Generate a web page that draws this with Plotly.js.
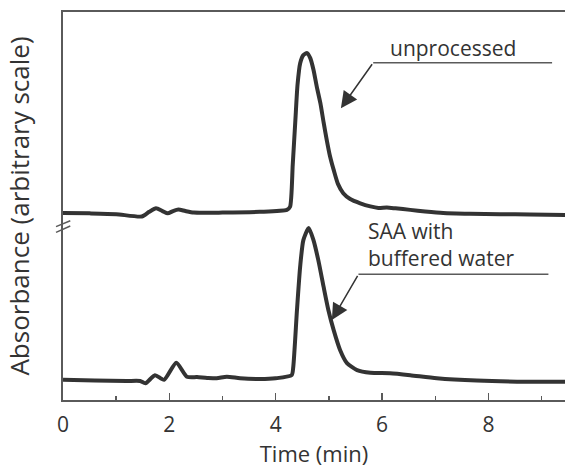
<!DOCTYPE html>
<html>
<head>
<meta charset="utf-8">
<script src="https://cdn.plot.ly/plotly-3.0.1.min.js"></script>
<style>
html,body{margin:0;padding:0;background:#fff;}
#chart{width:565px;height:470px;}
</style>
</head>
<body>
<div id="chart"></div>
<script>
// Time (min) and absorbance (arbitrary units, upper trace offset)
const timeUnprocessed = [0.00,0.50,1.00,1.48,1.62,1.75,1.87,1.97,2.07,2.17,2.30,2.46,3.00,3.70,4.21,4.27,4.32,4.37,4.41,4.46,4.52,4.59,4.65,4.71,4.77,4.84,4.90,4.96,5.02,5.09,5.17,5.27,5.40,5.59,5.78,5.93,6.09,6.25,6.53,6.81,7.15,7.65,8.22,8.78,9.44];
const absUnprocessed  = [48.2,48.1,47.9,47.3,48.5,49.4,48.7,48.1,48.7,49.1,48.7,48.3,48.3,48.5,49.0,49.8,60.6,72.2,81.2,86.8,88.9,89.4,88.1,85.1,80.9,76.5,71.6,67.0,62.9,59.3,55.7,53.3,51.8,50.7,49.9,49.5,49.6,49.4,49.0,48.6,48.2,48.0,47.9,47.8,47.7];

const timeSAA = [0.00,0.60,1.20,1.45,1.55,1.73,1.90,2.13,2.33,2.52,2.71,2.89,3.08,3.33,3.71,4.00,4.30,4.33,4.40,4.46,4.52,4.62,4.71,4.80,4.90,4.99,5.09,5.21,5.34,5.53,5.78,6.15,6.53,7.03,7.78,8.72,9.44];
const absSAA  = [5.2,5.0,4.9,4.9,4.3,6.4,5.2,9.6,6.0,5.9,5.7,5.6,6.0,5.6,5.4,5.6,6.4,8.5,23.2,34.4,41.2,44.3,41.2,36.1,29.2,23.2,18.0,12.9,9.5,7.7,7.0,6.9,6.4,5.6,5.0,4.7,4.7];

const xTickVals = [0,2,4,6,8];
const xTickText = ['0','2','4','6','8'];
const xMinorVals = [1,3,5,7,9];

const labelUnprocessed = 'unprocessed';
const labelSAA = 'SAA with<br>buffered water';

const lineColor = '#333333';
const axisColor = '#5a5a5a';
const font = 'Open Sans, sans-serif';

const traces = [
  {x: timeUnprocessed, y: absUnprocessed, type:'scatter', mode:'lines',
   line:{color:lineColor, width:4, shape:'spline', smoothing:0.6}, hoverinfo:'skip'},
  {x: timeSAA, y: absSAA, type:'scatter', mode:'lines',
   line:{color:lineColor, width:4, shape:'spline', smoothing:0.6}, hoverinfo:'skip'}
];

const layout = {
  width:565, height:470,
  margin:{l:63, r:0, t:12, b:70},
  paper_bgcolor:'#fff', plot_bgcolor:'#fff',
  showlegend:false,
  font:{family:font, color:'#333', size:21},
  xaxis:{
    range:[0,9.44], showgrid:false, zeroline:false,
    showline:true, linecolor:axisColor, linewidth:2, mirror:true,
    ticks:'inside', ticklen:7, tickwidth:1.5, tickcolor:axisColor,
    tickvals:xTickVals, ticktext:xTickText, ticklabelstandoff:5,
    tickfont:{family:font, size:21, color:'#333'},
    minor:{tickvals:xMinorVals, ticks:'inside', ticklen:4, tickwidth:1.5, tickcolor:axisColor},
    title:{text:'Time (min)', font:{family:font, size:22, color:'#333'}, standoff:8}
  },
  yaxis:{
    range:[0,100], showgrid:false, zeroline:false,
    showline:true, linecolor:axisColor, linewidth:2,
    ticks:'', showticklabels:false,
    title:{text:'Absorbance (arbitrary scale)', font:{family:font, size:26, color:'#333'}, standoff:24}
  },
  shapes:[
    // axis break marks
    {type:'line', xref:'paper', yref:'y', x0:-0.0139, x1:0.0145, y0:44.67, y1:46.2, line:{color:axisColor, width:1.5}},
    {type:'line', xref:'paper', yref:'y', x0:-0.0139, x1:0.0145, y0:43.2, y1:44.85, line:{color:axisColor, width:1.5}},
    // leader lines
    {type:'line', xref:'x', yref:'y', x0:5.833, x1:9.197, y0:86.93, y1:86.93, line:{color:axisColor, width:1.5}},
    {type:'line', xref:'x', yref:'y', x0:5.556, x1:9.128, y0:32.4, y1:32.4, line:{color:axisColor, width:1.5}}
  ],
  annotations:[
    {x:5.226, y:75.18, xref:'x', yref:'y', ax:5.833, ay:86.93, axref:'x', ayref:'y',
     text:'', showarrow:true, arrowhead:2, arrowsize:2.2, arrowwidth:1.5, arrowcolor:'#333', standoff:0, startstandoff:0},
    {x:5.056, y:20.6, xref:'x', yref:'y', ax:5.556, ay:32.4, axref:'x', ayref:'y',
     text:'', showarrow:true, arrowhead:2, arrowsize:2.2, arrowwidth:1.5, arrowcolor:'#333', standoff:0, startstandoff:0},
    {x:6.113, y:90.7, xref:'x', yref:'y', xanchor:'left', yanchor:'middle', showarrow:false,
     text:labelUnprocessed, font:{family:font, size:21, color:'#333'}},
    {x:5.701, y:40.15, xref:'x', yref:'y', xanchor:'left', yanchor:'middle', align:'left', showarrow:false,
     text:labelSAA, font:{family:font, size:21, color:'#333'}}
  ]
};

Plotly.newPlot('chart', traces, layout, {displayModeBar:false, staticPlot:true});
</script>
</body>
</html>
